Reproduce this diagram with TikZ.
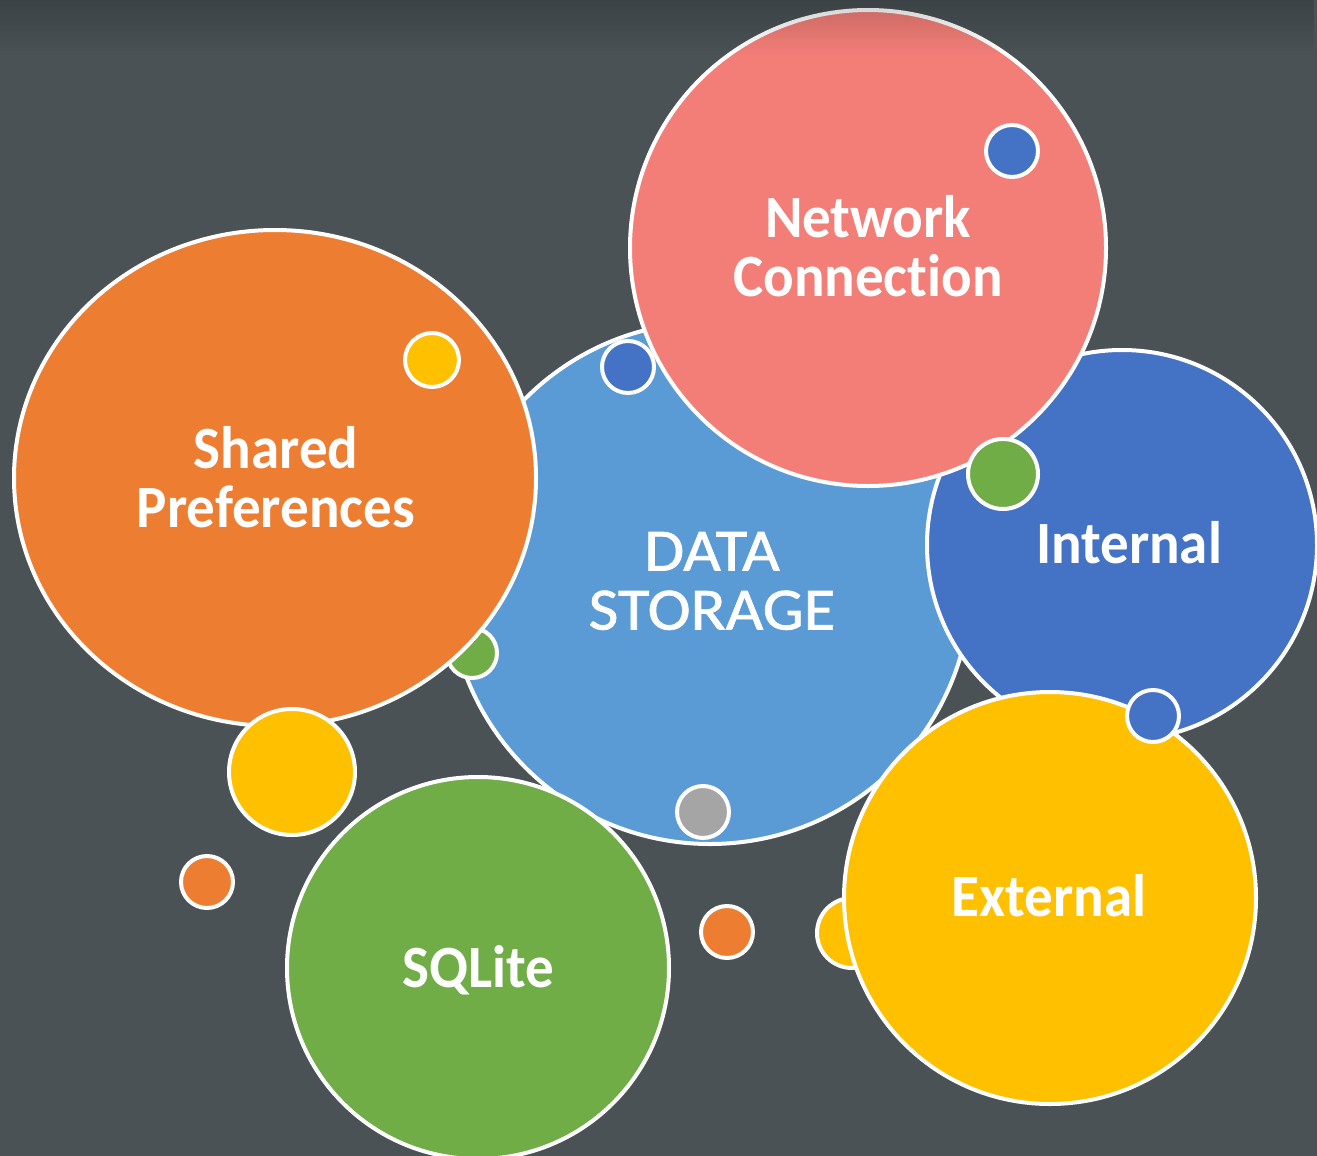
\documentclass[tikz,border=0pt]{standalone}
\usepackage{fontspec}
\setmainfont{Carlito}[FakeStretch=0.95, Ligatures=NoCommon]
\newfontfamily\storagefont{Carlito}[FakeStretch=1.08, FakeBold=1.2, Ligatures=NoCommon]
\usetikzlibrary{shapes.geometric,fadings}

\definecolor{bgslate}{HTML}{4A5256}
\definecolor{cstore}{HTML}{5B9BD5}
\definecolor{corange}{HTML}{ED7D31}
\definecolor{cpink}{HTML}{F37E78}
\definecolor{cindigo}{HTML}{4472C4}
\definecolor{cgold}{HTML}{FFC000}
\definecolor{cgreen}{HTML}{70AD47}
\definecolor{cgray}{HTML}{A5A5A5}

\tikzfading[name=topshade, top color=transparent!0, bottom color=transparent!100]

\begin{document}
\begin{tikzpicture}[x=1pt,y=-1pt,
  bubble/.style={circle, draw=white, line width=4pt, inner sep=0pt, minimum size=#1},
  lbl/.style={text=white, inner sep=0pt, align=center,
              font=\bfseries\fontsize{60}{59}\selectfont}]
  \useasboundingbox (0,0) rectangle (1317,1156);
  \clip (0,0) rectangle (1317,1156);
  \fill[bgslate] (0,0) rectangle (1317,1156);

  % central bubble and the pieces tucked behind the others
  \node[bubble=522pt, fill=cstore] (storage) at (710,583) {};
  \node[bubble=70pt, fill=cgold] (dotext) at (852,933) {};
  \node[bubble=50pt, fill=cgreen] (dotshared) at (472,653) {};

  % shared preferences
  \node[ellipse, draw=white, line width=4pt, inner sep=0pt, fill=corange,
        minimum width=522pt, minimum height=496pt] (shared) at (275,478) {};
  \node[bubble=126pt, fill=cgold] (dotbig) at (292,772) {};

  % internal and network connection
  \node[bubble=390pt, fill=cindigo] (internal) at (1122,545) {};
  \node[bubble=476pt, fill=cpink] (network) at (868,248) {};
  \node[bubble=52pt, fill=cindigo] (dotstore) at (628,367) {};
  \node[bubble=70pt, fill=cgreen] (dotnet) at (1003,474) {};

  % sqlite and external
  \node[bubble=382pt, fill=cgreen] (sqlite) at (478,968) {};
  \node[bubble=412pt, fill=cgold] (external) at (1050,898) {};

  % small accent dots
  \node[bubble=52pt, fill=cindigo] (dotint) at (1153,716) {};
  \node[bubble=52pt, fill=cgray] (dotgray) at (703,812) {};
  \node[bubble=52pt, fill=corange] (dotleft) at (207,882) {};
  \node[bubble=52pt, fill=corange] (dotmid) at (727,932) {};
  \node[bubble=54pt, fill=cgold] (dotpref) at (432,360) {};
  \node[bubble=52pt, fill=cindigo] (dottop) at (1012,151) {};

  % labels
  \node[lbl] (netlabel) at (868,246) {Network\\Connection};
  \node[lbl] (sharedlabel) at (276,477) {Shared\\Preferences};
  \node[lbl, font=\storagefont\fontsize{60}{59}\selectfont] (storagelabel) at (712,581) {DATA\\STORAGE};
  \node[lbl, anchor=base] (internallabel) at (1129,563) {Internal};
  \node[lbl, anchor=base] (externallabel) at (1049,916) {External};
  \node[lbl, anchor=base] (sqlitelabel) at (478,987) {SQLite};

  % darker band along the top edge
  \fill[black, fill opacity=0.18, path fading=topshade] (0,0) rectangle (1317,55);
\end{tikzpicture}
\end{document}
